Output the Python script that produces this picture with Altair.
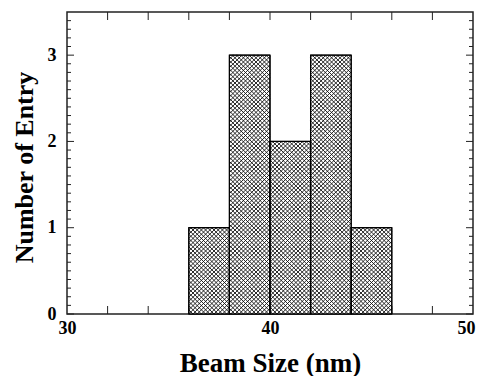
import altair as alt
import numpy as np
import pandas as pd

# ---- data ----
bin_start = [36, 38, 40, 42, 44]
bin_end = [38, 40, 42, 44, 46]
counts = [1, 3, 2, 3, 1]

x_labels = [30, 40, 50]
y_labels = [0, 1, 2, 3]
x_ticks = [32, 34, 36, 38, 40, 42, 44, 46, 48]
y_minor = [round(i / 10, 1) for i in range(1, 35) if i % 10 != 0]

# ---- layout ----
W, H = 406, 302
XMIN, XMAX, YMAX = 30, 50, 3.5
FONT = "Liberation Serif"

xscale = alt.Scale(domain=[XMIN, XMAX], nice=False, zero=False)
yscale = alt.Scale(domain=[0, YMAX], nice=False)

bars = pd.DataFrame({"start": bin_start, "end": bin_end, "count": counts,
                     "base": [0] * len(counts)})

# ---- cross-hatch fill pattern (decoration derived from bar rectangles) ----
sx = W / (XMAX - XMIN)
sy = H / YMAX
d = 4.2
rows = []
for x0, x1, h in zip(bin_start, bin_end, counts):
    X0, X1, Yh = (x0 - XMIN) * sx, (x1 - XMIN) * sx, h * sy
    for k in range(int(np.floor((X0 - Yh) / d)) - 1, int(np.ceil(X1 / d)) + 2):
        c = k * d
        lo, hi = max(0.0, X0 - c), min(Yh, X1 - c)
        if hi - lo > 1e-6:
            rows.append(dict(x=XMIN + (lo + c) / sx, y=lo / sy,
                             x2=XMIN + (hi + c) / sx, y2=hi / sy))
    for k in range(int(np.floor(X0 / d)) - 1, int(np.ceil((X1 + Yh) / d)) + 2):
        c = k * d
        lo, hi = max(X0, c - Yh), min(X1, c)
        if hi - lo > 1e-6:
            rows.append(dict(x=XMIN + lo / sx, y=(c - lo) / sy,
                             x2=XMIN + hi / sx, y2=(c - hi) / sy))
hatch = pd.DataFrame(rows)

x_axis = alt.Axis(values=x_labels, ticks=False, tickSize=0, domain=False, grid=False,
                  format="d", labelFont=FONT, labelFontWeight="bold", labelFontSize=18,
                  labelColor="black", labelPadding=5, labelFlush=False, labelOverlap=False,
                  labelAlign=alt.ExprRef(expr="datum.value == 50 ? 'right' : 'center'"),
                  labelOffset=alt.ExprRef(expr="datum.value == 50 ? 2 : 0"),
                  title="Beam Size (nm)", titleFont=FONT, titleFontWeight="bold",
                  titleFontSize=27, titleColor="black", titleY=57,
                  titleBaseline="alphabetic")
y_axis = alt.Axis(values=y_labels, ticks=False, tickSize=0, domain=False, grid=False,
                  format="d", labelFont=FONT, labelFontWeight="bold", labelFontSize=18,
                  labelColor="black", labelPadding=11, labelFlush=False, labelOverlap=False,
                  title="Number of Entry", titleFont=FONT, titleFontWeight="bold",
                  titleFontSize=26, titleColor="black", titleX=-35, titleY=155,
                  titleBaseline="alphabetic")

# ---- ticks (inward) ----
ydf_minor = pd.DataFrame({"v": y_minor})
ydf_major = pd.DataFrame({"v": y_labels})
xdf = pd.DataFrame({"v": x_ticks})
TICK = "#222"

def yt(df, x1, x2):
    return alt.Chart(df).mark_rule(color=TICK, strokeWidth=1).encode(
        y=alt.Y("v:Q", scale=yscale, axis=y_axis),
        x=alt.value(x1), x2=alt.value(x2))

def xt(df, y1, y2):
    return alt.Chart(df).mark_rule(color=TICK, strokeWidth=1).encode(
        x=alt.X("v:Q", scale=xscale, axis=x_axis),
        y=alt.value(y1), y2=alt.value(y2))

ticks = [yt(ydf_minor, 0, 4), yt(ydf_major, 0, 7),
         yt(ydf_minor, W, W - 4), yt(ydf_major, W, W - 7),
         xt(xdf, H, H - 8), xt(xdf, 0, 8)]

bar_fill = alt.Chart(bars).mark_rect(fill="white", stroke="black", strokeWidth=1).encode(
    x=alt.X("start:Q", scale=xscale, axis=x_axis),
    x2="end:Q",
    y=alt.Y("count:Q", scale=yscale, axis=y_axis),
    y2="base:Q")

hatch_layer = alt.Chart(hatch).mark_rule(color="#111", strokeWidth=0.9).encode(
    x=alt.X("x:Q", scale=xscale, axis=x_axis), x2="x2:Q",
    y=alt.Y("y:Q", scale=yscale, axis=y_axis), y2="y2:Q")

bar_outline = alt.Chart(bars).mark_rect(fillOpacity=0, stroke="black", strokeWidth=1.2).encode(
    x=alt.X("start:Q", scale=xscale, axis=x_axis),
    x2="end:Q",
    y=alt.Y("count:Q", scale=yscale, axis=y_axis),
    y2="base:Q")

chart = alt.layer(bar_fill, *ticks, hatch_layer, bar_outline).properties(
    width=W, height=H,
    autosize=alt.AutoSizeParams(type="none"),
    padding={"left": 59, "top": 4, "right": 3, "bottom": 62},
    background="white",
).configure_view(stroke="#222", strokeWidth=1.5)

chart.save("out.html", embed_options={"renderer": "svg", "actions": False})
